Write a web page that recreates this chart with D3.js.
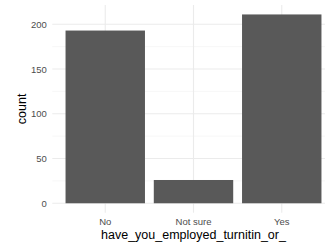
<!DOCTYPE html>
<html>
<head>
<meta charset="utf-8">
<script src="https://cdn.jsdelivr.net/npm/d3@7"></script>
<style>
  body { margin: 0; background: #fff; }
  svg { display: block; font-family: "Liberation Sans", Arial, sans-serif; }
</style>
</head>
<body>
<svg id="chart" width="325" height="243"></svg>
<script>
var categories = ["No", "Not sure", "Yes"];
var counts = [193, 26, 211];
var yTicks = [0, 50, 100, 150, 200];
var yMinor = [25, 75, 125, 175];
var xTitle = "have_you_employed_turnitin_or_";
var yTitle = "count";

var margin = {left: 52.3, top: 5, bottom: 30.3};
var width = 325, height = 243;
var panelRight = 334.7;
var panelBottom = height - margin.bottom;

var svg = d3.select("#chart");

// ggplot style expansion: 0.6 units on discrete axis, 5% on continuous
var xScale = d3.scaleBand()
    .domain(categories)
    .range([margin.left, panelRight])
    .paddingInner(0.1)
    .paddingOuter(0.15);

var ymax = d3.max(counts);
var yScale = d3.scaleLinear()
    .domain([-0.05 * ymax, 1.05 * ymax])
    .range([panelBottom, margin.top]);

var grid = svg.append("g");
grid.selectAll(".minor").data(yMinor).enter().append("line")
    .attr("x1", margin.left).attr("x2", panelRight)
    .attr("y1", function (d) { return yScale(d); })
    .attr("y2", function (d) { return yScale(d); })
    .attr("stroke", "#f2f2f2").attr("stroke-width", 0.6);
grid.selectAll(".major").data(yTicks).enter().append("line")
    .attr("x1", margin.left).attr("x2", panelRight)
    .attr("y1", function (d) { return yScale(d); })
    .attr("y2", function (d) { return yScale(d); })
    .attr("stroke", "#ebebeb").attr("stroke-width", 1.1);
grid.selectAll(".vmajor").data(categories).enter().append("line")
    .attr("y1", margin.top).attr("y2", panelBottom)
    .attr("x1", function (d) { return xScale(d) + xScale.bandwidth() / 2; })
    .attr("x2", function (d) { return xScale(d) + xScale.bandwidth() / 2; })
    .attr("stroke", "#ebebeb").attr("stroke-width", 1.1);

svg.append("g").selectAll("rect")
    .data(categories)
    .enter().append("rect")
    .attr("x", function (d) { return xScale(d); })
    .attr("width", xScale.bandwidth())
    .attr("y", function (d, i) { return yScale(counts[i]); })
    .attr("height", function (d, i) { return yScale(0) - yScale(counts[i]); })
    .attr("fill", "#595959");

var yAxis = d3.axisLeft(yScale).tickValues(yTicks).tickSize(0).tickPadding(5);
var yG = svg.append("g")
    .attr("transform", "translate(" + margin.left + ",0)")
    .call(yAxis);
yG.select(".domain").remove();
yG.selectAll("text").attr("fill", "#4d4d4d").style("font-size", "9.5px")
    .attr("x", -5.5);

var xAxis = d3.axisBottom(xScale).tickSize(0).tickPadding(5);
var xG = svg.append("g")
    .attr("transform", "translate(0," + panelBottom + ")")
    .call(xAxis);
xG.select(".domain").remove();
xG.selectAll("text").attr("fill", "#4d4d4d").style("font-size", "9.5px")
    .attr("dy", "0.71em").attr("y", 5.5);

svg.append("text")
    .attr("x", (margin.left + panelRight) / 2)
    .attr("y", 238.5)
    .attr("text-anchor", "middle")
    .style("font-size", "12.5px")
    .attr("fill", "#000")
    .text(xTitle);

svg.append("text")
    .attr("transform", "translate(25.5," + ((margin.top + panelBottom) / 2) + ") rotate(-90)")
    .attr("text-anchor", "middle")
    .style("font-size", "12.5px")
    .attr("fill", "#000")
    .text(yTitle);
</script>
</body>
</html>
